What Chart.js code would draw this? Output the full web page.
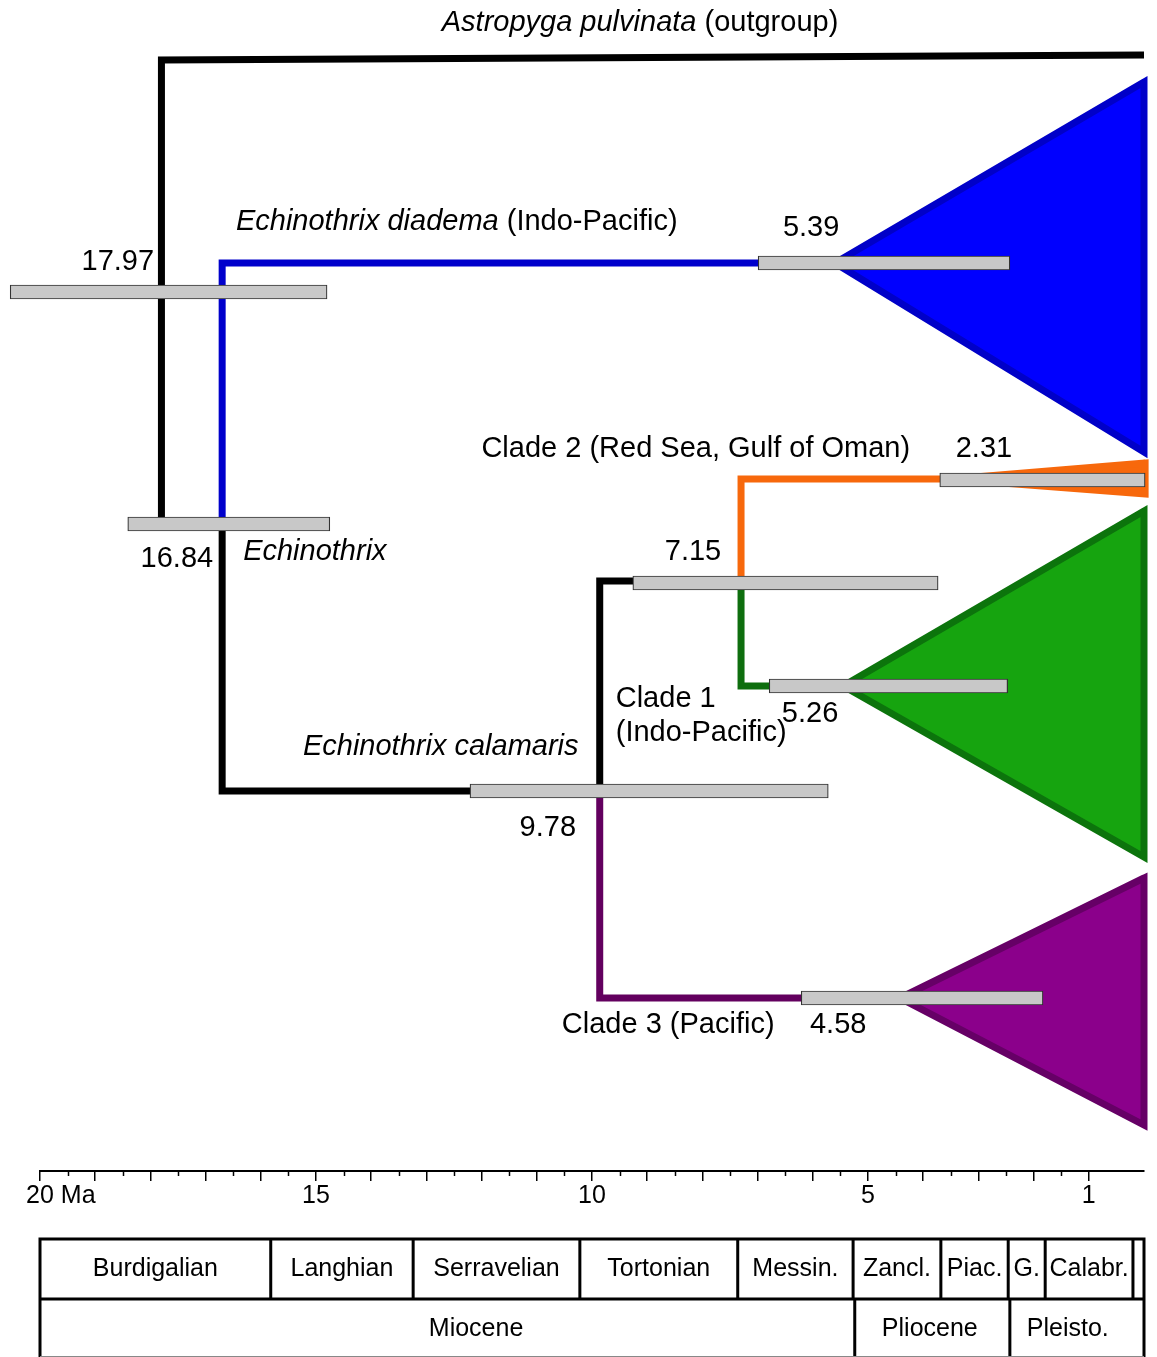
<!DOCTYPE html>
<html>
<head>
<meta charset="utf-8">
<script src="https://cdn.jsdelivr.net/npm/chart.js@4.4.0/dist/chart.umd.min.js"></script>
<style>
  html, body { margin: 0; padding: 0; background: #fff; }
</style>
</head>
<body>
<canvas id="myChart" width="1157" height="1357"></canvas>
<script>
// ---- data (ages in Ma, rows = vertical slot of the tree, 0 = top) ----
const nodeAges = ['17.97', '16.84', '9.78', '7.15', '5.39', '5.26', '4.58', '2.31'];
const hpdOld   = [20.54, 18.41, 12.21, 9.26, 6.99, 6.79, 6.21, 3.70];
const hpdYoung = [14.80, 14.75, 5.72, 3.73, 2.43, 2.47, 1.83, -0.02];
const hpdRow   = [29.2, 52.4, 79.1, 58.3, 26.3, 68.6, 99.8, 48.0];

// branches [age, row]
const branchOutgroup  = [[16.7, 52.3], [17.8, 52.3], [17.8, 6.0], [0, 5.5]];
const branchDiadema   = [[16.7, 52.3], [16.7, 26.3], [5.60, 26.3]];
const branchCalamaris = [[16.7, 52.3], [16.7, 79.1], [9.86, 79.1]];
const branchStem12    = [[9.86, 79.1], [9.86, 58.1], [7.30, 58.1]];
const branchClade2    = [[7.30, 58.1], [7.30, 47.9], [3.50, 47.9]];
const branchClade1    = [[7.30, 58.1], [7.30, 68.6], [5.45, 68.6]];
const branchClade3    = [[9.86, 79.1], [9.86, 99.8], [4.42, 99.8]];

// collapsed clades: apex, top tip, bottom tip
const cladeDiadema = [[5.60, 26.3], [0, 8.2], [0, 45.2]];
const cladeClade2  = [[3.50, 47.9], [-0.02, 46.3], [-0.02, 49.4]];
const cladeClade1  = [[5.45, 68.6], [0, 51.1], [0, 85.7]];
const cladeClade3  = [[4.42, 99.8], [0, 87.8], [0, 112.5]];

// time axis
const axisTicks  = [20, 19, 18, 17, 16, 15, 14, 13, 12, 11, 10, 9, 8, 7, 6, 5, 4, 3, 2, 1];
const axisLabels = {20: '20', 15: '15', 10: '10', 5: '5', 1: '1'};

// geological time scale
const stageEdges = [20, 15.82, 13.24, 10.22, 7.36, 5.27, 3.68, 2.46, 1.79, 0.2, 0];
const stageNames = ['Burdigalian', 'Langhian', 'Serravelian', 'Tortonian', 'Messin.', 'Zancl.', 'Piac.', 'G.', 'Calabr.', ''];
const epochEdges = [20, 5.24, 2.43, 0];
const epochNames = ['Miocene', 'Pliocene', 'Pleisto.'];
const epochLabelAge = [12.1, 3.88, 1.38];

const FONT = '"Liberation Sans", Arial, Helvetica, sans-serif';
Chart.defaults.font.family = FONT;

// label anchors [age, row]
const ageLabelPos = [[18.59, 26.2], [17.52, 55.9], [10.80, 82.8], [8.17, 55.2],
                     [6.03, 22.8], [6.05, 71.4], [5.54, 102.5], [2.90, 44.9]];
const taxonLabels = [
  {parts: [['Astropyga pulvinata', true], [' (outgroup)', false]], at: [9.13, 2.3], align: 'center'},
  {parts: [['Echinothrix diadema', true], [' (Indo-Pacific)', false]], at: [12.45, 22.2], align: 'center'},
  {parts: [['Echinothrix', true]], at: [16.32, 55.2], align: 'left'},
  {parts: [['Echinothrix calamaris', true]], at: [12.74, 74.7], align: 'center'},
  {parts: [['Clade 2 (Red Sea, Gulf of Oman)', false]], at: [8.12, 44.9], align: 'center'},
  {parts: [['Clade 1', false]], at: [9.57, 69.9], align: 'left'},
  {parts: [['(Indo-Pacific)', false]], at: [9.57, 73.3], align: 'left'},
  {parts: [['Clade 3 (Pacific)', false]], at: [8.62, 102.5], align: 'center'}
];

function pts(arr) {
  return arr.map(p => ({x: p[0], y: p[1]}));
}

function branch(arr, color) {
  return {
    data: pts(arr), showLine: true, borderColor: color, borderWidth: 7,
    borderJoinStyle: 'miter', borderCapStyle: 'butt', pointRadius: 0,
    fill: false, tension: 0, clip: false, order: 2
  };
}

function clade(arr, fill, edge) {
  const closed = [arr[0], arr[1], arr[2], arr[0], arr[1]];
  return {
    data: pts(closed), showLine: true, borderColor: edge, backgroundColor: fill,
    borderWidth: 7, borderJoinStyle: 'miter', pointRadius: 0,
    fill: 'shape', tension: 0, clip: false, order: 1
  };
}

function drawRich(ctx, parts, x, y, align, size) {
  const widths = parts.map(p => {
    ctx.font = (p[1] ? 'italic ' : '') + size + 'px ' + FONT;
    return ctx.measureText(p[0]).width;
  });
  const total = widths.reduce((a, b) => a + b, 0);
  let cx = align === 'center' ? x - total / 2 : (align === 'right' ? x - total : x);
  ctx.textAlign = 'left';
  ctx.textBaseline = 'middle';
  parts.forEach((p, i) => {
    ctx.font = (p[1] ? 'italic ' : '') + size + 'px ' + FONT;
    ctx.fillText(p[0], cx, y);
    cx += widths[i];
  });
}

const treeText = {
  id: 'treeText',
  afterDatasetsDraw(chart) {
    const ctx = chart.ctx, xs = chart.scales.x, ys = chart.scales.y;
    ctx.save();
    ctx.fillStyle = '#000';
    nodeAges.forEach((t, i) => {
      const p = ageLabelPos[i];
      drawRich(ctx, [[t, false]], xs.getPixelForValue(p[0]), ys.getPixelForValue(p[1]), 'center', 29);
    });
    taxonLabels.forEach(l => {
      drawRich(ctx, l.parts, xs.getPixelForValue(l.at[0]), ys.getPixelForValue(l.at[1]), l.align, 29);
    });
    ctx.restore();
  },
  afterDraw(chart) {
    const ctx = chart.ctx, xs = chart.scales.x;
    const top = xs.top;
    ctx.save();
    // half-Ma ticks
    ctx.strokeStyle = '#000';
    ctx.lineWidth = 1.5;
    for (let v = 19.5; v > 1; v -= 1) {
      const px = Math.round(xs.getPixelForValue(v)) + 0.5;
      ctx.beginPath();
      ctx.moveTo(px, top);
      ctx.lineTo(px, top + 5);
      ctx.stroke();
    }
    // unit after the first label
    ctx.font = '25px ' + FONT;
    ctx.fillStyle = '#000';
    ctx.textBaseline = 'middle';
    ctx.textAlign = 'left';
    const w20 = ctx.measureText('20').width;
    ctx.fillText(' Ma', xs.getPixelForValue(20) + w20 / 2, top + 25);

    // geological time scale box
    const y0 = top + 68, y1 = top + 128, y2 = chart.height - 1;
    const xl = xs.getPixelForValue(stageEdges[0]);
    const xr = xs.getPixelForValue(0);
    ctx.strokeStyle = '#000';
    ctx.lineWidth = 3;
    ctx.beginPath();
    ctx.moveTo(xl, y0); ctx.lineTo(xr, y0);
    ctx.moveTo(xl, y1); ctx.lineTo(xr, y1);
    ctx.moveTo(xl, y0 - 1.5); ctx.lineTo(xl, y2 + 1);
    ctx.moveTo(xr, y0 - 1.5); ctx.lineTo(xr, y2 + 1);
    for (let i = 1; i < stageEdges.length - 1; i++) {
      const px = xs.getPixelForValue(stageEdges[i]);
      ctx.moveTo(px, y0); ctx.lineTo(px, y1);
    }
    for (let i = 1; i < epochEdges.length - 1; i++) {
      const px = xs.getPixelForValue(epochEdges[i]);
      ctx.moveTo(px, y1); ctx.lineTo(px, y2 + 1);
    }
    ctx.stroke();
    ctx.strokeStyle = '#888';
    ctx.lineWidth = 1;
    ctx.beginPath();
    ctx.moveTo(xl, y2 + 0.5); ctx.lineTo(xr, y2 + 0.5);
    ctx.stroke();

    ctx.font = '25px ' + FONT;
    ctx.textAlign = 'center';
    stageNames.forEach((n, i) => {
      const cx = (xs.getPixelForValue(stageEdges[i]) + xs.getPixelForValue(stageEdges[i + 1])) / 2;
      ctx.fillText(n, cx, (y0 + y1) / 2);
    });
    epochNames.forEach((n, i) => {
      ctx.fillText(n, xs.getPixelForValue(epochLabelAge[i]), (y1 + y2) / 2 + 2);
    });
    ctx.restore();
  }
};

const ctx = document.getElementById('myChart').getContext('2d');
const myChart = new Chart(ctx, {
  type: 'scatter',
  data: {
    datasets: [
      {
        type: 'bar', indexAxis: 'y', order: 0, clip: false,
        data: nodeAges.map((a, i) => ({x: [hpdOld[i], hpdYoung[i]], y: hpdRow[i]})),
        backgroundColor: '#c8c8c8', borderColor: '#333333', borderWidth: 1.2,
        borderSkipped: false, barThickness: 14
      },
      clade(cladeDiadema, '#0000ff', '#0000c8'),
      clade(cladeClade2, '#f7680c', '#f7680c'),
      clade(cladeClade1, '#16a40f', '#0c740c'),
      clade(cladeClade3, '#8b008b', '#660066'),
      branch(branchOutgroup, '#000000'),
      branch(branchDiadema, '#0000cc'),
      branch(branchCalamaris, '#000000'),
      branch(branchStem12, '#000000'),
      branch(branchClade2, '#f7680c'),
      branch(branchClade1, '#0e6e0e'),
      branch(branchClade3, '#63005f')
    ]
  },
  options: {
    responsive: false,
    animation: false,
    events: [],
    layout: {padding: {left: 40, right: 13, top: 0, bottom: 146}},
    plugins: {legend: {display: false}, tooltip: {enabled: false}, title: {display: false}},
    scales: {
      x: {
        type: 'linear', min: 0, max: 20, reverse: true, offset: false,
        afterBuildTicks: (scale) => { scale.ticks = axisTicks.map(v => ({value: v})); },
        ticks: {
          autoSkip: false, maxRotation: 0, padding: 0, color: '#000',
          font: {size: 25},
          callback: (v) => axisLabels[v] || ''
        },
        grid: {drawOnChartArea: false, drawTicks: true, tickLength: 10, color: '#000', lineWidth: 1.5},
        border: {display: true, color: '#000', width: 2}
      },
      y: {
        type: 'linear', display: false, min: 0, max: 117.1, reverse: true, offset: false
      }
    }
  },
  plugins: [treeText]
});
</script>
</body>
</html>
